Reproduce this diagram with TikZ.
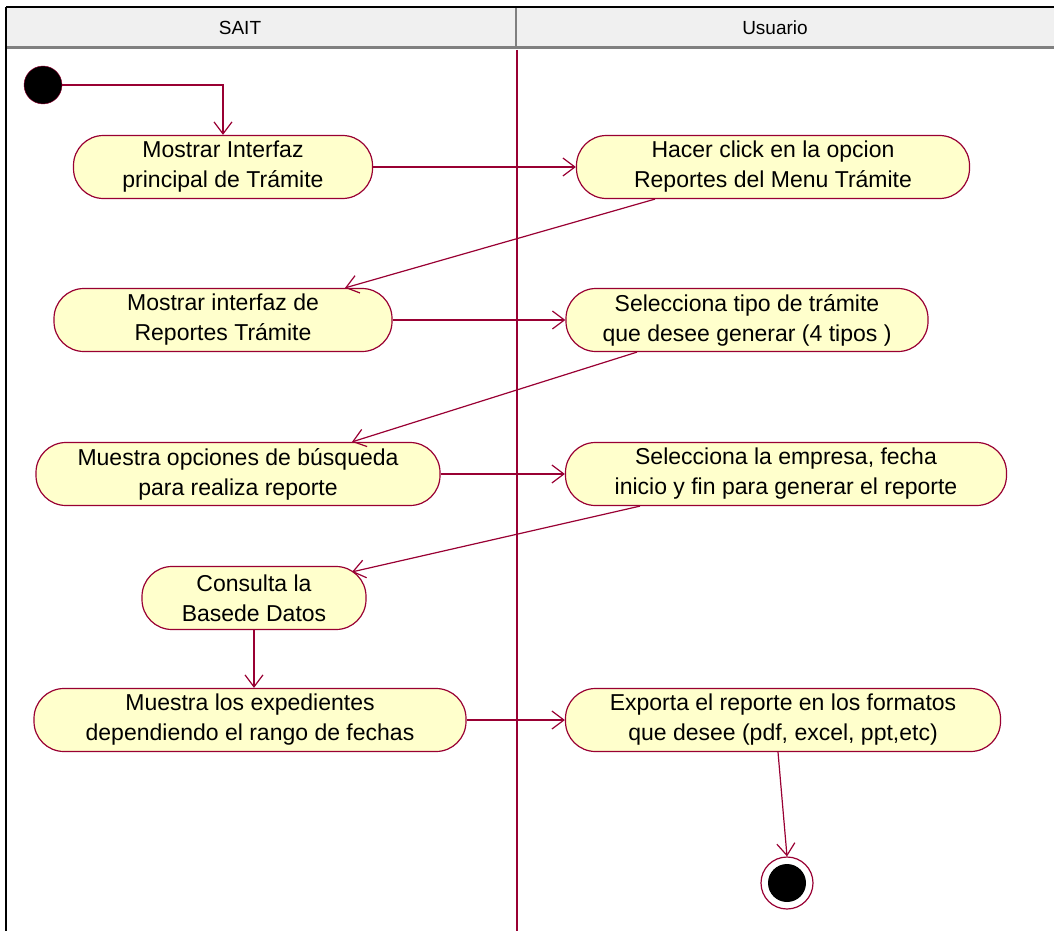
\documentclass[tikz,border=0pt]{standalone}
\usepackage{fontspec}
\setmainfont{Liberation Sans}
\usetikzlibrary{arrows.meta}
\definecolor{umlrojo}{RGB}{153,0,51}
\definecolor{umlcrema}{RGB}{255,255,204}
\definecolor{cabecera}{RGB}{240,240,240}
\tikzset{
  actividad/.style={draw=umlrojo, fill=umlcrema, line width=1.2pt, rounded corners=30pt,
    minimum height=63pt, align=center, inner sep=2pt, font=\fontsize{23}{30}\selectfont},
  flujo/.style={draw=umlrojo, line width=1.2pt, -{Straight Barb[length=12pt,width=18pt]}},
  carril/.style={font=\fontsize{19}{21}\selectfont},
}
\begin{document}
\begin{tikzpicture}[x=1pt,y=-1pt]
\useasboundingbox (0,0) rectangle (1054,931);

% Encabezado de los carriles
\fill[cabecera] (6,8) rectangle (1054,48);
\draw[gray, line width=3pt] (6,48) -- (1054,48);
\draw[gray, line width=2pt] (516,8) -- (516,47);
\draw[black, line width=1.5pt] (6,7) -- (1054,7);
\draw[black, line width=1.5pt] (6,7) -- (6,931);
\node[carril] (sait) at (240,28) {SAIT};
\node[carril] (usuario) at (775,28) {Usuario};

% Separador de carriles
\draw[umlrojo, line width=1.2pt] (517,50) -- (517,931);

% Nodo inicial
\node[circle, fill=black, draw=umlrojo, minimum size=38pt, inner sep=0pt] (inicio) at (43,85) {};

% Actividades
\node[actividad, minimum width=299pt] (a1) at (223,167) {Mostrar Interfaz\\principal de Trámite};
\node[actividad, minimum width=393pt] (a2) at (773,167) {Hacer click en la opcion\\Reportes del Menu Trámite};
\node[actividad, minimum width=338pt] (a3) at (223,320) {Mostrar interfaz de\\Reportes Trámite};
\node[actividad, minimum width=362pt] (a4) at (747,320) {Selecciona tipo de trámite\\que desee generar (4 tipos )};
\node[actividad, minimum width=404pt] (a5) at (238,474) {Muestra opciones de búsqueda\\para realiza reporte};
\node[actividad, minimum width=441pt] (a6) at (786,474) {Selecciona la empresa, fecha\\inicio y fin para generar el reporte};
\node[actividad, minimum width=224pt] (a7) at (254,598) {Consulta la\\Basede Datos};
\node[actividad, minimum width=432pt] (a8) at (250,720) {Muestra los expedientes\\dependiendo el rango de fechas};
\node[actividad, minimum width=435pt] (a9) at (783,720) {Exporta el reporte en los formatos\\que desee (pdf, excel, ppt,etc)};

% Nodo final
\node[circle, fill=white, draw=umlrojo, line width=1.2pt, minimum size=52pt, inner sep=0pt] (fin) at (787,883) {};
\fill[black] (fin.center) circle (19pt);

% Flujos
\draw[flujo] (inicio) -| (a1.north);
\draw[flujo] (a1.east) -- (a2.west);
\draw[flujo] ([xshift=-118pt]a2.south) -- ([xshift=122pt]a3.north);
\draw[flujo] (a3.east) -- (a4.west);
\draw[flujo] ([xshift=-110pt]a4.south) -- ([xshift=114pt]a5.north);
\draw[flujo] (a5.east) -- (a6.west);
\draw[flujo] ([xshift=-146pt]a6.south) -- ([xshift=98pt,yshift=-6pt]a7.north);
\draw[flujo] (a7.south) -- (a7.south |- a8.north);
\draw[flujo] (a8.east) -- (a9.west);
\draw[flujo] ([xshift=-5pt]a9.south) -- (fin.north);
\end{tikzpicture}
\end{document}
